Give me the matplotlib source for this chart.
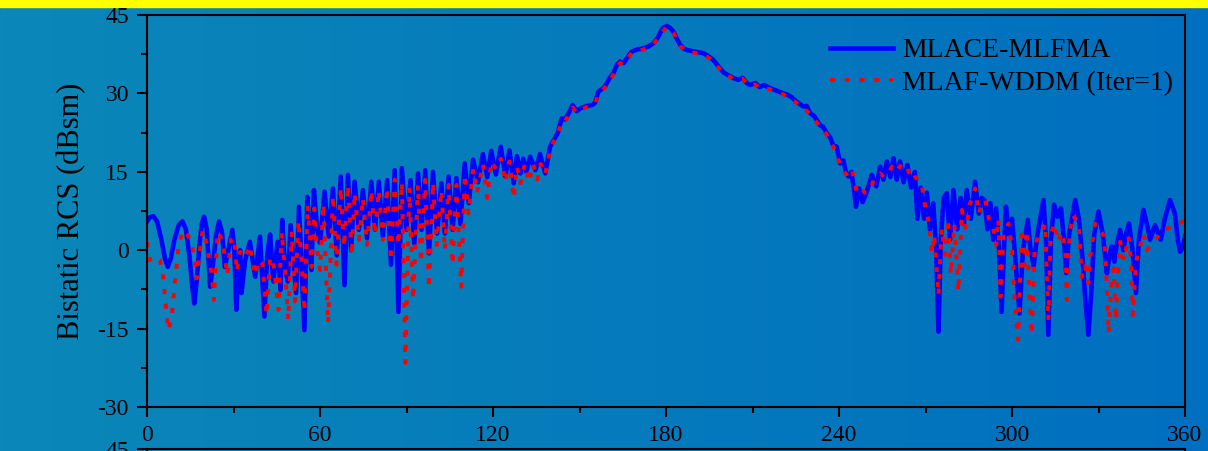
import matplotlib.pyplot as plt
import numpy as np
from matplotlib.colors import LinearSegmentedColormap

plt.rcParams['font.family'] = ['Liberation Serif', 'DejaVu Serif']
plt.rcParams['axes.unicode_minus'] = False

# bistatic RCS: (angle in deg, RCS in dBsm)
blue_pts = [
    (0, 5.5), (1, 6.3), (2.2, 6.5), (3.5, 5.5), (5, 2), (6.2, -1.5), (7.2, -3.2), (8.3, -1.5), (9.5, 2),
    (11, 4.8), (12.3, 5.5), (13.5, 4), (14.7, -1), (15.7, -7), (16.4, -10.2), (17.2, -6), (18.2, 1),
    (19, 5), (19.8, 6.4), (20.7, 4), (21.9, -7), (23, -2), (24, 3), (25, 5.5), (26, 3.5), (27, -3.2),
    (28.2, 0), (29.6, 3.9), (30.3, 0), (31, -11.4), (31.7, -3), (32.3, 0), (32.8, -8.2), (34, -2),
    (35.7, 1.6), (37.5, -5.1), (39.2, 2.6), (40.7, -12.7), (41.7, -1), (42.7, 3), (43.8, -6), (45.3, 1.6),
    (46.3, -7.6), (46.9, 5.8), (47.8, -3), (48.8, -6), (49.8, 4.8), (50.8, -2), (51.7, -8.2), (52.7, 8.3),
    (53.6, -3), (54.6, -15.3), (55.6, 10.2), (56.3, 4), (57, -3.8), (57.9, 11.5), (59, 4), (60, 1.4),
    (61.6, 11.2), (63, 2.6), (64.5, 11.8), (65.8, -1), (67.2, 14.1), (68.5, -6.7), (69.7, 14.4), (70.8, 0),
    (72, 13.1), (73.5, 3.9), (74.9, 11.5), (76.3, 2.3), (77.8, 13.1), (79.1, 3.9), (80.4, 13.1), (81.8, 2.6),
    (83.3, 13.4), (84.6, -2.8), (85.9, 15.3), (87.2, -11.8), (88.4, 15.7), (89.9, 3.9), (91.4, 13.4),
    (92.7, 1.3), (94, 14.7), (95.2, 3.9), (96.5, 15.3), (97.8, -0.6), (99.2, 15), (100.6, 3.2), (102.1, 12.8),
    (103.3, 3.2), (104.6, 14.1), (106, 3.9), (107.3, 13.8), (108.7, 5), (110.2, 16.6), (111.6, 9),
    (113.1, 17.3), (114.8, 13), (116.5, 18.4), (118, 14), (119.4, 19), (121, 14.5), (122.7, 19.8),
    (124.3, 14.1), (125.7, 19.1), (127.2, 12.8), (128.3, 18), (129.5, 14.7), (130.5, 17.5), (131.5, 15),
    (132.9, 17.9), (134.7, 15.3), (136.3, 18.4), (138.1, 14.7), (139.8, 19.8), (141, 21), (142.5, 22.5),
    (143.8, 25.2), (145, 25), (146.5, 26.5), (147.6, 27.8), (149, 26.6), (150.5, 27.2), (152.6, 27.6),
    (154.5, 27.8), (155.4, 28.2), (156.5, 30.3), (158.8, 31.3), (160.5, 33), (161.7, 33.8), (163, 35.5),
    (164, 36.1), (165.3, 35.8), (166.5, 36.8), (168.1, 38), (170, 38.4), (172.1, 38.6), (174, 39),
    (175.6, 39.6), (177, 40.5), (177.9, 41.5), (179, 42.6), (180.3, 42.9), (181.5, 42.5), (182.6, 41.8),
    (184, 40.2), (184.9, 39.3), (186, 38.6), (187.2, 38.3), (190, 38), (192.9, 37.7), (194.5, 37.2),
    (196.4, 36.4), (198.7, 34.8), (200, 34), (201.5, 33.5), (203.4, 32.9), (205, 32.6), (206.5, 33),
    (208, 32), (209.2, 31.6), (211, 32), (212.5, 31.2), (214, 31.6), (216.1, 31), (218, 30.6),
    (220.7, 30), (222, 29.8), (223.5, 29.3), (225.3, 28.4), (227.6, 27.5), (228.8, 27.6), (230, 26.2),
    (231.5, 25.6), (233.4, 23.9), (234.5, 23.6), (235.7, 22.4), (237, 21.5), (238, 20), (239.2, 19.8),
    (240.4, 16.6), (241.5, 17.2), (242.5, 14.7), (243.3, 14.1), (244.3, 15), (245.2, 11.5), (245.9, 8.3),
    (247, 11.8), (248.2, 9.2), (249.5, 11), (251.4, 14.4), (252.9, 12.2), (254.3, 16), (255.4, 13.5),
    (256.6, 17), (257.8, 14), (258.9, 17.6), (260, 13.5), (261.2, 17), (262.4, 13), (263.7, 16.3),
    (265, 12), (266.3, 15), (267.2, 6), (268.3, 12), (269.5, 6), (270.5, 11), (271.5, 4), (272.7, 9),
    (273.7, 0), (274.5, -15.6), (275.3, 2), (276.3, 10), (277.4, 10.9), (278.5, 2), (279.7, 11.5),
    (281, 4), (282.2, 10), (283.3, 5), (284.3, 11.5), (285.7, 6), (287.2, 13.1), (288.5, 7), (289.5, 10),
    (290.4, 9.6), (291.5, 4), (292.5, 9), (293.5, 2), (294.5, 8), (295.5, 0), (296.4, -11.8), (297.2, 0),
    (297.9, 8.3), (299, 3), (300, 6), (301.2, -2), (302.6, -12.1), (303.8, 0), (305.5, 5.8), (306.3, 0.7),
    (307.5, -3), (308.8, 3), (310.9, 9.6), (311.8, 2), (312.6, -16.2), (313.5, 2), (314.6, 8.7),
    (315.8, 6.4), (317, 8), (318, 2), (318.8, -4.4), (319.8, 3), (321.9, 9.6), (323.2, 6), (324.5, -2),
    (325.5, -10), (326.5, -16.2), (327.5, -8), (328.5, 3), (330, 7.4), (331.5, 3), (332.9, -4.4),
    (333.8, -1), (334.6, 0.7), (335.5, -2.2), (336.3, 1), (337.5, 3.9), (338.6, 0), (339.5, 3),
    (340.6, 5.1), (341.8, 0), (343, -8.2), (344, 2), (345.6, 7.7), (347, 4.5), (347.9, 2), (349.6, 4.8),
    (351.6, 2), (353, 6), (354.8, 9.6), (356.5, 7), (357.5, 2), (358.3, -0.3), (359.2, 0.5), (360, 2.6),
]

red_pts = [
    (0, 1.5), (1, -1.9), (2.5, -1.3), (4.5, -1.9), (5.7, -5.4), (6.2, -8.9), (6.8, -12.1), (7.4, -15.3),
    (8.6, -12.7), (9.1, -9.5), (9.7, -6), (10.9, 0.6), (12.4, 3.8), (14, 3), (15.5, 1.2), (16.6, -1.9),
    (17.2, -5.4), (18.4, 0.3), (19.3, 3.8), (20.7, 1.2), (21.5, -1.9), (22.4, -4.4), (23.2, -9.5),
    (23.8, -3.2), (24.5, 3.5), (26.1, 1.9), (27, -1.6), (27.9, -4.8), (29.1, 2), (30.3, 2.4), (31.1, -4.1),
    (32.3, -0.3), (34, -1.5), (35.7, 0.9), (37.5, -4.8), (38.6, -1.9), (40, -2.5), (41.5, -12.4),
    (42.7, -1.3), (44, -3.2), (45.6, -11.4), (46.7, 3.5), (47.8, -3.2), (49, -13.3), (50.2, 3.5),
    (51.3, -9.8), (52.5, 5.7), (53.6, -1.9), (54.6, -11.8), (55.7, 8.6), (57.1, -3.2), (58, 8), (58.8, 0.9),
    (60, -3.8), (61.2, 8.9), (62.8, -14), (64.5, 10.5), (65.7, -2.8), (67.2, 12), (68.3, 0.6), (69.7, 12.5),
    (71, -1), (72, 11), (73.5, 2), (74.9, 10), (76.3, 1), (77.8, 11.5), (79, 3), (80.4, 11.5), (81.8, 2),
    (83.3, 12), (84.6, -2), (85.9, 13.5), (87.2, 1), (88.4, 13), (89.6, -21.6), (91, 12), (92.3, -9.5),
    (94, 12.5), (95, -2.4), (96.5, 13.5), (97.8, -7.3), (99.2, 13), (100.5, 1), (102.1, 11.5), (103.3, 0),
    (104.6, 12.5), (106, -2.8), (107.3, 12.5), (109, -7), (110.2, 14.5), (111.5, 7), (113.1, 15.5),
    (114.5, 11), (116.5, 16.5), (118, 10), (119.4, 17), (121, 15.5), (122.7, 17.5), (124.3, 13),
    (125.7, 17), (127.2, 9.9), (128.3, 16), (129.5, 12.8), (131, 16.5), (132.5, 13), (133.9, 16.5),
    (135.4, 13.5), (136.5, 16.5), (138.1, 14.5), (139.8, 19.3), (141, 20.8), (142.5, 22.3), (143.8, 24.8),
    (145, 24.7), (146.5, 26.2), (147.6, 27.3), (149, 26.3), (150.5, 27), (152.6, 27.4), (155.4, 28),
    (156.5, 30), (158.8, 31.1), (161.7, 33.6), (164, 35.8), (165.3, 35.6), (166.5, 36.6), (168.1, 37.8),
    (172.1, 38.4), (175.6, 39.4), (177.9, 41.3), (180.3, 42.7), (182.6, 41.6), (184.9, 39.1), (187.2, 38),
    (192.9, 37.5), (196.4, 36.2), (198.7, 34.6), (203.4, 32.7), (206.5, 32.8), (209.2, 31.4), (211, 31.7),
    (212.5, 31), (216.1, 30.8), (220.7, 29.8), (225.3, 28.2), (227.6, 27.3), (230, 26), (233.4, 23.7),
    (235.7, 22.2), (238, 19.8), (240.4, 16.4), (242.5, 14.5), (244.4, 15.7), (246.1, 11.2), (247.5, 12),
    (249, 11), (250.8, 11.5), (252, 13.5), (254.3, 14.7), (255.5, 14), (257.2, 14.7), (258.3, 16),
    (259.8, 15), (261.8, 16.6), (263.5, 16), (265.2, 13.4), (266.5, 14), (268.7, 12.5), (270, 8),
    (271, 5.8), (272.2, -0.6), (273, 3), (274.5, -8.6), (275.6, 4.2), (276.8, -0.9), (277.8, 6),
    (278.8, -4.7), (280, 5), (281.4, -7.9), (282.6, 7.7), (284, 4), (285.5, 9), (287.2, 11.8), (288.5, 7),
    (289.5, 9), (290.7, 9.6), (292, 6), (293.4, 4.5), (294.5, 1), (295.3, 6), (296, -8.9), (297, 3),
    (298.8, 5.1), (300, 0), (301, -10), (302.1, -17.2), (303.4, 4.2), (304.3, -3), (305.1, 3.8), (306, -8),
    (306.9, -16.2), (307.8, 0), (308.6, 2), (310, 3), (311.5, 5.1), (312.6, -13.4), (313.4, 3.2),
    (314.9, 5.1), (315.9, 1.6), (317.3, 3.5), (318.4, 0.7), (319, -9.5), (320, 3.5), (321.1, 6.7),
    (323.1, 5.1), (324.2, -5.1), (325.3, -3), (326.5, -6.3), (327.1, -1.2), (328.8, 5.1), (330.3, 4),
    (331.7, 2.9), (332.3, -0.6), (332.9, -7.3), (333.5, -15.9), (334, -10.8), (334.6, -5.7), (335.2, -3.5),
    (336.1, -13.4), (336.6, -5.1), (337.5, 1.6), (338.7, -1.9), (340.4, 2.6), (341.3, -2), (341.9, -12.4),
    (343, -2.2), (345.6, 3.2), (346.8, 0), (347.9, 1), (350, 2.3), (352.5, 3.9), (356.6, 4.8),
    (359.2, 5.5), (360, 5.5),
]

blue_deg, blue_val = zip(*blue_pts)
red_deg, red_val = zip(*red_pts)

labels = ['MLACE-MLFMA', 'MLAF-WDDM (Iter=1)']
x_ticks = [0, 60, 120, 180, 240, 300, 360]
y_ticks = [-30, -15, 0, 15, 30, 45]

W, H = 1208, 451
fig = plt.figure(figsize=(W / 100, H / 100), dpi=100)

# slide background: blue gradient + yellow strip on top
bg = fig.add_axes([0, 0, 1, 1], zorder=-10)
cmap = LinearSegmentedColormap.from_list('slide', ['#0b87b8', '#006fc0'])
bg.imshow(np.linspace(0, 1, 256).reshape(1, -1), aspect='auto', cmap=cmap,
          extent=[0, 1, 0, 1])
bg.axhspan(1 - 7 / H, 1, color='#ffff00')
bg.set_xlim(0, 1)
bg.set_ylim(0, 1)
bg.axis('off')

ax = fig.add_axes([147 / W, 44 / H, 1038 / W, 392 / H])
ax.patch.set_alpha(0)
ax.plot(blue_deg, blue_val, color='#0000ff', lw=3.3, solid_joinstyle='round',
        label=labels[0])
ax.plot(red_deg, red_val, color='#ff0000', lw=2.8, linestyle=(0, (1.3, 2.5)),
        dash_capstyle='butt', label=labels[1])

ax.set_xlim(0, 360)
ax.set_ylim(-30, 45)
ax.set_xticks(x_ticks)
ax.set_xticks([30, 90, 150, 210, 270, 330], minor=True)
ax.set_yticks(y_ticks)
ax.set_yticks([-22.5, -7.5, 7.5, 22.5, 37.5], minor=True)
ax.tick_params(which='major', direction='out', length=7, width=1.5, labelsize=17, pad=6,
               colors='black')
ax.tick_params(which='minor', direction='out', length=4, width=1.5)
for s in ax.spines.values():
    s.set_linewidth(1.5)
ax.set_ylabel('Bistatic RCS (dBsm)', fontsize=22, labelpad=8)

ax.legend(loc='upper left', bbox_to_anchor=(830 / W, 1 - 38 / H),
          bbox_transform=fig.transFigure, frameon=False, fontsize=20,
          handlelength=2.27, handletextpad=0.33, labelspacing=0.25,
          borderpad=0, borderaxespad=0)

# top edge of the next panel peeking in at the bottom
ax2 = fig.add_axes([147 / W, -1, 1038 / W, 1 + 2 / H])
ax2.patch.set_alpha(0)
ax2.set_xlim(0, 360)
ax2.set_ylim(-30, 45)
ax2.set_xticks([])
ax2.set_yticks([45])
ax2.tick_params(direction='out', length=7, width=1.5, labelsize=17, pad=6)
for s in ax2.spines.values():
    s.set_linewidth(1.5)

fig.savefig('out.png', dpi=100)
